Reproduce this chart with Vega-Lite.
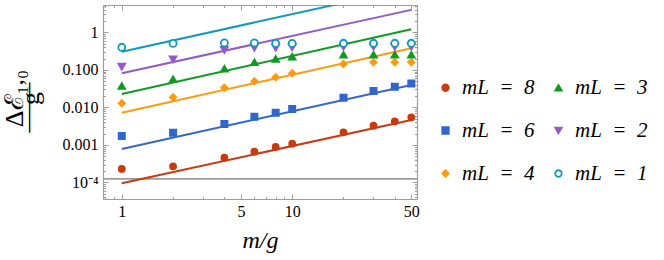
{
  "$schema": "https://vega.github.io/schema/vega-lite/v6.json",
  "width": 314,
  "height": 194,
  "autosize": {"type": "none"},
  "padding": {"left": 103, "top": 5, "right": 247, "bottom": 61},
  "background": "white",
  "config": {
    "view": {"stroke": null},
    "font": "Liberation Serif",
    "axis": {
      "grid": false,
      "domainColor": "#9d9d9d",
      "domainWidth": 1.2,
      "tickColor": "#9d9d9d",
      "tickWidth": 1,
      "labelColor": "black",
      "labelFont": "Liberation Serif",
      "labelFontSize": 16,
      "titleColor": "black",
      "titleFont": "Liberation Serif",
      "titleFontWeight": "normal"
    }
  },
  "datasets": {
    "pts": [
      {"m": 1, "v": 0.000229, "mL": 8}, {"m": 2, "v": 0.00027, "mL": 8}, {"m": 4, "v": 0.000457, "mL": 8}, {"m": 6, "v": 0.00066, "mL": 8}, {"m": 8, "v": 0.00088, "mL": 8}, {"m": 10, "v": 0.00108, "mL": 8}, {"m": 20, "v": 0.00217, "mL": 8}, {"m": 30, "v": 0.00326, "mL": 8}, {"m": 40, "v": 0.00426, "mL": 8}, {"m": 50, "v": 0.00545, "mL": 8},
      {"m": 1, "v": 0.00173, "mL": 6}, {"m": 2, "v": 0.00212, "mL": 6}, {"m": 4, "v": 0.00361, "mL": 6}, {"m": 6, "v": 0.00565, "mL": 6}, {"m": 8, "v": 0.00723, "mL": 6}, {"m": 10, "v": 0.00906, "mL": 6}, {"m": 20, "v": 0.0181, "mL": 6}, {"m": 30, "v": 0.0273, "mL": 6}, {"m": 40, "v": 0.0356, "mL": 6}, {"m": 50, "v": 0.043, "mL": 6},
      {"m": 1, "v": 0.01286, "mL": 4}, {"m": 2, "v": 0.0186, "mL": 4}, {"m": 4, "v": 0.0335, "mL": 4}, {"m": 6, "v": 0.0496, "mL": 4}, {"m": 8, "v": 0.0633, "mL": 4}, {"m": 10, "v": 0.081, "mL": 4}, {"m": 20, "v": 0.143, "mL": 4}, {"m": 30, "v": 0.159, "mL": 4}, {"m": 40, "v": 0.16, "mL": 4}, {"m": 50, "v": 0.16, "mL": 4},
      {"m": 1, "v": 0.0372, "mL": 3}, {"m": 2, "v": 0.056, "mL": 3}, {"m": 4, "v": 0.1066, "mL": 3}, {"m": 6, "v": 0.159, "mL": 3}, {"m": 8, "v": 0.195, "mL": 3}, {"m": 10, "v": 0.224, "mL": 3}, {"m": 20, "v": 0.252, "mL": 3}, {"m": 30, "v": 0.252, "mL": 3}, {"m": 40, "v": 0.252, "mL": 3}, {"m": 50, "v": 0.252, "mL": 3},
      {"m": 1, "v": 0.121, "mL": 2}, {"m": 2, "v": 0.191, "mL": 2}, {"m": 4, "v": 0.338, "mL": 2}, {"m": 6, "v": 0.389, "mL": 2}, {"m": 8, "v": 0.389, "mL": 2}, {"m": 10, "v": 0.4, "mL": 2}, {"m": 20, "v": 0.414, "mL": 2}, {"m": 30, "v": 0.414, "mL": 2}, {"m": 40, "v": 0.414, "mL": 2}, {"m": 50, "v": 0.414, "mL": 2},
      {"m": 1, "v": 0.399, "mL": 1}, {"m": 2, "v": 0.505, "mL": 1}, {"m": 4, "v": 0.52, "mL": 1}, {"m": 6, "v": 0.52, "mL": 1}, {"m": 8, "v": 0.505, "mL": 1}, {"m": 10, "v": 0.505, "mL": 1}, {"m": 20, "v": 0.51, "mL": 1}, {"m": 30, "v": 0.51, "mL": 1}, {"m": 40, "v": 0.51, "mL": 1}, {"m": 50, "v": 0.51, "mL": 1}
    ],
    "fit": [
      {"m": 1, "v": 0.000095, "mL": 8}, {"m": 50, "v": 0.00462, "mL": 8},
      {"m": 1, "v": 0.00078, "mL": 6}, {"m": 50, "v": 0.0395, "mL": 6},
      {"m": 1, "v": 0.00723, "mL": 4}, {"m": 50, "v": 0.375, "mL": 4},
      {"m": 1, "v": 0.0228, "mL": 3}, {"m": 50, "v": 1.2, "mL": 3},
      {"m": 1, "v": 0.081, "mL": 2}, {"m": 50, "v": 3.95, "mL": 2},
      {"m": 1, "v": 0.304, "mL": 1}, {"m": 50, "v": 15.2, "mL": 1}
    ],
    "floor": [{"v": 0.000125}]
  },
  "resolve": {"axis": {"x": "independent", "y": "independent"}},
  "layer": [
    {
      "data": {"name": "floor"},
      "mark": {"type": "rule", "color": "#9d9d9d", "strokeWidth": 1.6},
      "encoding": {
        "y": {"field": "v", "type": "quantitative", "scale": {"type": "log", "domain": [0.0000363, 5.33], "nice": false}, "axis": null}
      }
    },
    {
      "data": {"name": "fit"},
      "mark": {"type": "line", "clip": true, "strokeWidth": 2},
      "encoding": {
        "x": {"field": "m", "type": "quantitative", "scale": {"type": "log", "domain": [0.776, 54], "nice": false},
          "axis": {"orient": "bottom", "values": [1, 5, 10, 50], "format": "d", "tickSize": -5, "labelPadding": 9, "labelFlush": false, "title": "m/g", "titleFontSize": 24, "titleFontStyle": "italic", "titlePadding": 9}},
        "y": {"field": "v", "type": "quantitative", "scale": {"type": "log", "domain": [0.0000363, 5.33], "nice": false},
          "axis": {"orient": "left", "values": [0.0001, 0.001, 0.01, 0.1, 1], "tickSize": -5, "labelPadding": 10, "labelFlush": false,
            "labelExpr": "datum.value > 0.5 ? '1' : datum.value > 0.05 ? '0.100' : datum.value > 0.005 ? '0.010' : datum.value > 0.0005 ? '0.001' : '10⁻⁴'",
            "title": ["Δℰ₁,₀", "g"], "titleFontSize": 26, "titleAngle": 270, "titleAlign": "center", "titleBaseline": "alphabetic", "titleLineHeight": 16, "titleX": -81, "titleY": 93}},
        "stroke": {"field": "mL", "type": "nominal", "scale": {"domain": [8, 6, 4, 3, 2, 1, 0], "range": ["#c93a10", "#3366cc", "#ff9a10", "#119a22", "#9458c8", "#1199bb", "#000000"]}, "legend": null}
      }
    },
    {
      "data": {"name": "pts"},
      "mark": {"type": "point", "strokeWidth": 1.8, "opacity": 1},
      "encoding": {
        "x": {"field": "m", "type": "quantitative", "scale": {"type": "log", "domain": [0.776, 54], "nice": false},
          "axis": {"orient": "bottom", "values": [0.8, 0.9, 2, 3, 4, 6, 7, 8, 9, 20, 30, 40], "tickSize": -2.5, "labels": false, "domain": false, "title": null}},
        "y": {"field": "v", "type": "quantitative", "scale": {"type": "log", "domain": [0.0000363, 5.33], "nice": false},
          "axis": {"orient": "left", "values": [0.00004, 0.00005, 0.00006, 0.00007, 0.00008, 0.00009, 0.0002, 0.0003, 0.0004, 0.0005, 0.0006, 0.0007, 0.0008, 0.0009, 0.002, 0.003, 0.004, 0.005, 0.006, 0.007, 0.008, 0.009, 0.02, 0.03, 0.04, 0.05, 0.06, 0.07, 0.08, 0.09, 0.2, 0.3, 0.4, 0.5, 0.6, 0.7, 0.8, 0.9, 2, 3, 4, 5], "tickSize": -2.5, "labels": false, "domain": false,
            "title": "——", "titleFontSize": 25, "titleAngle": 270, "titleAlign": "center", "titleBaseline": "middle", "titleX": -76, "titleY": 102}},
        "shape": {"field": "mL", "type": "nominal", "scale": {"domain": [8, 6, 4, 3, 2, 1], "range": ["circle", "square", "diamond", "triangle-up", "triangle-down", "circle"]},
          "legend": {"title": null, "orient": "none", "legendX": 332, "legendY": 72, "columns": 2, "padding": 0, "columnPadding": 13, "rowPadding": 21, "symbolSize": 42, "symbolStrokeWidth": 1.8, "labelFont": "Liberation Serif", "labelFontSize": 21, "labelFontStyle": "italic", "labelColor": "black", "labelOffset": 6, "labelExpr": "'mL\u2002=\u2002' + datum.label"}},
        "color": {"field": "mL", "type": "nominal", "scale": {"domain": [8, 6, 4, 3, 2, 1], "range": ["#c93a10", "#3366cc", "#ff9a10", "#119a22", "#9458c8", "#1199bb"]},
          "legend": {"title": null, "orient": "none", "legendX": 332, "legendY": 72, "columns": 2, "padding": 0, "columnPadding": 13, "rowPadding": 21, "symbolSize": 42, "symbolStrokeWidth": 1.8, "labelFont": "Liberation Serif", "labelFontSize": 21, "labelFontStyle": "italic", "labelColor": "black", "labelOffset": 6, "labelExpr": "'mL\u2002=\u2002' + datum.label"}},
        "fill": {"field": "mL", "type": "nominal", "scale": {"domain": [8, 6, 4, 3, 2, 1], "range": ["#c93a10", "#3366cc", "#ff9a10", "#119a22", "#9458c8", "#ffffff"]},
          "legend": {"title": null, "orient": "none", "legendX": 332, "legendY": 72, "columns": 2, "padding": 0, "columnPadding": 13, "rowPadding": 21, "symbolSize": 42, "symbolStrokeWidth": 1.8, "labelFont": "Liberation Serif", "labelFontSize": 21, "labelFontStyle": "italic", "labelColor": "black", "labelOffset": 6, "labelExpr": "'mL\u2002=\u2002' + datum.label"}},
        "size": {"field": "mL", "type": "nominal", "scale": {"domain": [8, 6, 4, 3, 2, 1, 99], "range": [36, 52, 70, 70, 70, 45, 10]}, "legend": null}
      }
    },
    {
      "data": {"name": "fit"},
      "mark": {"type": "point", "opacity": 0},
      "encoding": {
        "x": {"field": "m", "type": "quantitative", "scale": {"type": "log", "domain": [0.776, 54], "nice": false},
          "axis": {"orient": "top", "values": [1, 5, 10, 50], "tickSize": -5, "labels": false, "title": null}},
        "y": {"field": "v", "type": "quantitative", "scale": {"type": "log", "domain": [0.0000363, 5.33], "nice": false},
          "axis": {"orient": "right", "values": [0.0001, 0.001, 0.01, 0.1, 1], "tickSize": -5, "labels": false, "title": null}}
      }
    },
    {
      "data": {"name": "fit"},
      "mark": {"type": "point", "opacity": 0},
      "encoding": {
        "x": {"field": "m", "type": "quantitative", "scale": {"type": "log", "domain": [0.776, 54], "nice": false},
          "axis": {"orient": "top", "values": [0.8, 0.9, 2, 3, 4, 6, 7, 8, 9, 20, 30, 40], "tickSize": -2.5, "labels": false, "domain": false, "title": null}},
        "y": {"field": "v", "type": "quantitative", "scale": {"type": "log", "domain": [0.0000363, 5.33], "nice": false},
          "axis": {"orient": "right", "values": [0.00004, 0.00005, 0.00006, 0.00007, 0.00008, 0.00009, 0.0002, 0.0003, 0.0004, 0.0005, 0.0006, 0.0007, 0.0008, 0.0009, 0.002, 0.003, 0.004, 0.005, 0.006, 0.007, 0.008, 0.009, 0.02, 0.03, 0.04, 0.05, 0.06, 0.07, 0.08, 0.09, 0.2, 0.3, 0.4, 0.5, 0.6, 0.7, 0.8, 0.9, 2, 3, 4, 5], "tickSize": -2.5, "labels": false, "domain": false, "title": null}}
      }
    }
  ]
}
